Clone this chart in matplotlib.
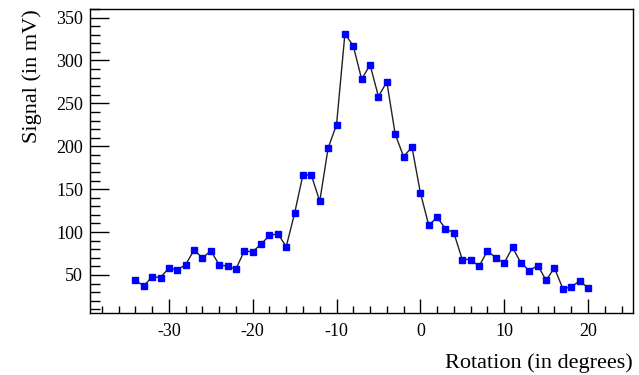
import matplotlib
matplotlib.use("Agg")
import matplotlib.pyplot as plt
from matplotlib.ticker import MultipleLocator

# rotation angle in degrees, one point per degree
rotation = list(range(-34, 21))
# signal in mV
signal = [44, 37, 48, 47, 58, 56, 62, 79, 70, 78,
          62, 60, 57, 78, 77, 86, 96, 98, 83, 122,
          167, 166, 136, 198, 225, 331, 317, 278, 295, 258,
          275, 214, 188, 199, 146, 108, 117, 104, 99, 68,
          68, 60, 78, 70, 64, 82, 64, 55, 61, 44,
          58, 34, 36, 43, 35]

plt.rcParams['font.family'] = ['Liberation Serif', 'DejaVu Serif']
plt.rcParams['axes.unicode_minus'] = False

fig = plt.figure(figsize=(6.39, 3.75), dpi=100)
ax = fig.add_axes([0.141, 0.165, 0.850, 0.811])

ax.plot(rotation, signal, color='#222222', lw=1.0, zorder=2)
ax.plot(rotation, signal, ls='none', marker='s', ms=5, color='#0000ff',
        mec='#0000ff', zorder=3)

ax.set_xlim(-39.4, 25.4)
ax.set_ylim(5.5, 360)

ax.xaxis.set_major_locator(MultipleLocator(10))
ax.xaxis.set_minor_locator(MultipleLocator(2))
ax.yaxis.set_major_locator(MultipleLocator(50))
ax.yaxis.set_minor_locator(MultipleLocator(10))
ax.set_yticks([50, 100, 150, 200, 250, 300, 350])

ax.tick_params(axis='x', which='major', direction='in', length=10, width=1,
               labelsize=13, pad=7, top=False)
ax.tick_params(axis='x', which='minor', direction='in', length=5, width=1, top=False)
ax.tick_params(axis='y', which='major', direction='in', length=14, width=1,
               labelsize=13, pad=5, right=False)
ax.tick_params(axis='y', which='minor', direction='in', length=7, width=1, right=False)

for s in ax.spines.values():
    s.set_linewidth(1.0)

ax.set_xlabel('Rotation (in degrees)', fontsize=16, loc='right', labelpad=10)
ax.set_ylabel('Signal (in mV)', fontsize=16, loc='top', labelpad=10)

fig.savefig('out.png', dpi=100)
